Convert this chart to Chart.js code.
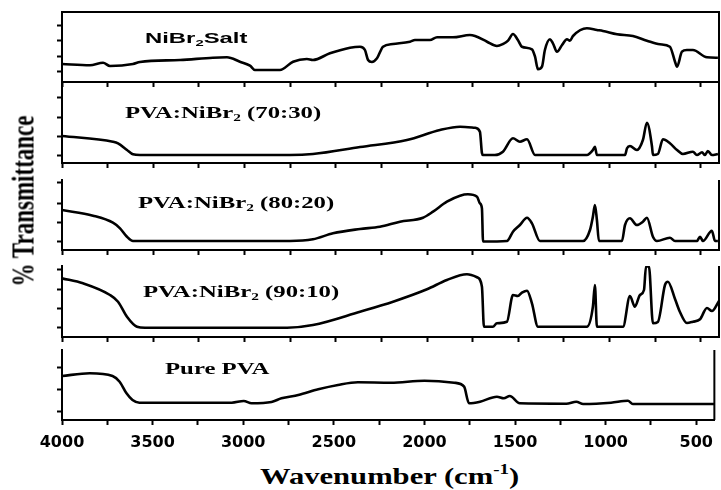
<!DOCTYPE html>
<html>
<head>
<meta charset="utf-8">
<script src="https://cdn.jsdelivr.net/npm/chart.js@4.4.0/dist/chart.umd.min.js"></script>
<style>
  html, body { margin: 0; padding: 0; background: #fff; }
  #wrap { position: relative; width: 721px; height: 490px; overflow: hidden; }
  #wrap canvas { position: absolute; left: 0; }
  .lbl { position: absolute; white-space: nowrap; color: #000; font-weight: bold; line-height: 1; transform-origin: 0 50%; }
  .serif { font-family: "Liberation Serif", "Times New Roman", serif; }
  .sans { font-family: "Liberation Sans", Arial, sans-serif; }
  sub { font-size: 0.62em; vertical-align: -0.3em; line-height: 0; }
  sup { font-size: 0.62em; vertical-align: 0.7em; line-height: 0; }
</style>
</head>
<body>
<div id="wrap">
  <canvas id="p1"></canvas>
  <canvas id="p2"></canvas>
  <canvas id="p3"></canvas>
  <canvas id="p4"></canvas>
  <canvas id="p5"></canvas>

  <div class="lbl sans"  style="left:145px; top:38px;  font-size:15.5px; transform:translateY(-50%) scaleX(1.54);">NiBr<sub>2</sub>Salt</div>
  <div class="lbl serif" style="left:125px; top:113px; font-size:16.5px; transform:translateY(-50%) scaleX(1.5);">PVA:NiBr<sub>2</sub> (70:30)</div>
  <div class="lbl serif" style="left:138px; top:203px; font-size:16.5px; transform:translateY(-50%) scaleX(1.5);">PVA:NiBr<sub>2</sub> (80:20)</div>
  <div class="lbl serif" style="left:143px; top:292px; font-size:16.5px; transform:translateY(-50%) scaleX(1.5);">PVA:NiBr<sub>2</sub> (90:10)</div>
  <div class="lbl serif" style="left:165px; top:369px; font-size:16.5px; transform:translateY(-50%) scaleX(1.5);">Pure PVA</div>

  <div class="lbl serif" style="left:23px; top:201px; font-size:23px; transform-origin:50% 50%; transform:translate(-50%,-50%) rotate(-90deg) scaleY(1.4);">% Transmittance</div>
  <div class="lbl serif" style="left:260px; top:477px; font-size:22.5px; transform:translateY(-50%) scaleX(1.36);">Wavenumber (cm<sup>-1</sup>)</div>
</div>

<script>
// wavenumber ticks (cm-1), labels only on multiples of 500
const xTicks = [4000, 3750, 3500, 3250, 3000, 2750, 2500, 2250, 2000, 1750, 1500, 1250, 1000, 750, 500];

// NiBr2 salt
const saltWn = [4000, 3847, 3775, 3737, 3611, 3573, 3353, 3173, 3096, 3025, 2970, 2943, 2806, 2734, 2658, 2625, 2532, 2422, 2367, 2340, 2323, 2302, 2274, 2241, 2186, 2093, 2066, 1984, 1945, 1858, 1765, 1737, 1671, 1617, 1584, 1556, 1529, 1502, 1480, 1425, 1408, 1392, 1370, 1354, 1326, 1310, 1288, 1260, 1233, 1217, 1200, 1124, 1069, 1036, 959, 872, 795, 724, 669, 641, 630, 603, 576, 543, 466, 406];
const saltT  = [18, 16.7, 19.3, 16, 18, 20, 22, 24.3, 24.7, 20.3, 16.3, 12, 12, 20.3, 23, 22, 28.7, 34.3, 35.3, 32, 22, 20, 23.7, 35.3, 38, 40.3, 42, 42, 44.7, 44.7, 47, 46, 40.3, 36, 38, 41.3, 48, 42, 35.3, 32.7, 25.3, 12.7, 15.3, 32, 42.7, 38.7, 30.3, 37, 42.7, 41.3, 46, 53.7, 52, 51, 47.7, 46, 41.3, 37.7, 35.3, 20.3, 15.3, 30.3, 32, 32, 24.7, 24.3];

// PVA:NiBr2 (70:30)
const pva70Wn = [4000, 3721, 3693, 3644, 3611, 3573, 2751, 2625, 2367, 2110, 1929, 1819, 1737, 1710, 1699, 1693, 1628, 1584, 1529, 1491, 1452, 1408, 1124, 1091, 1080, 1069, 915, 904, 888, 850, 817, 795, 767, 762, 735, 707, 669, 630, 598, 543, 521, 493, 477, 461, 439, 406];
const pva70T  = [27, 21.3, 19.7, 13, 8.7, 8, 8, 9, 16, 23, 33, 36.3, 35.3, 31.3, 10, 8, 8, 11.3, 24.7, 21.3, 23.7, 8, 8, 13, 16.3, 8, 8, 14.7, 17, 13, 23, 40.3, 16.3, 8, 9, 23.7, 19.7, 13, 9, 11.3, 8, 10.7, 8, 12, 8, 9];

// PVA:NiBr2 (80:20)
const pva80Wn = [4000, 3830, 3721, 3682, 3644, 3611, 2751, 2625, 2515, 2367, 2258, 2148, 2022, 1967, 1891, 1819, 1776, 1726, 1710, 1699, 1693, 1562, 1529, 1491, 1452, 1425, 1381, 1145, 1107, 1091, 1080, 1069, 1058, 932, 915, 888, 850, 817, 795, 762, 740, 669, 641, 521, 504, 488, 439, 422, 406];
const pva80T  = [40, 34.3, 27.3, 21.7, 13.3, 9, 9, 10.7, 16.7, 21, 23.3, 28.3, 32.3, 38.3, 48.3, 54.3, 55.7, 53.3, 46.7, 41.7, 8.5, 9, 18.3, 25, 32.3, 26.7, 9, 9, 20, 33.3, 45, 30, 9, 9, 25, 31.7, 25, 28.3, 32.3, 13.3, 9, 12.3, 9, 9, 13.3, 9, 19.3, 9, 9];

// PVA:NiBr2 (90:10)
const pva90Wn = [4000, 3885, 3737, 3693, 3644, 3589, 3545, 2767, 2625, 2367, 2186, 2000, 1891, 1781, 1726, 1699, 1688, 1639, 1617, 1562, 1529, 1502, 1480, 1452, 1425, 1392, 1124, 1091, 1080, 1069, 926, 888, 861, 833, 811, 800, 784, 762, 735, 696, 680, 641, 614, 576, 543, 504, 466, 439, 400];
const pva90T  = [58.7, 53.7, 42, 35.3, 20.3, 10.3, 9.3, 9.3, 12, 25.3, 35.3, 47.7, 57, 62.7, 59.7, 50.3, 10.3, 10.3, 13.7, 15.3, 42, 41, 44.3, 46.3, 33.7, 10.3, 10.3, 30.3, 52, 10.3, 10.3, 41, 30.3, 42, 47, 70.5, 70.5, 13.7, 15, 52, 55.3, 38, 25, 14, 15.3, 17.7, 29, 26, 36];

// Pure PVA
const pureWn = [4000, 3847, 3721, 3682, 3644, 3611, 3573, 3063, 2997, 2954, 2844, 2789, 2696, 2586, 2477, 2367, 2186, 2000, 1836, 1781, 1754, 1693, 1600, 1562, 1529, 1474, 1217, 1162, 1124, 970, 877, 850, 400];
const pureT  = [44, 46.7, 44, 38.3, 26.7, 20, 17.3, 17.3, 19, 16.7, 18, 21.7, 25, 30.7, 35, 37.7, 37.3, 39.3, 37.3, 33.3, 16.7, 18.3, 23.3, 21.7, 24, 16.7, 16.3, 18.3, 16, 17.3, 19.3, 16, 16];

// y tick positions per panel (offset transmittance, a.u.)
const saltTicks = [11, 26, 41, 57];
const pva70Ticks = [8, 27, 46, 66];
const pva80Ticks = [9, 28, 47, 67];
const pva90Ticks = [9, 29, 48, 68];
const pureTicks = [9, 31, 53];

// layout of the stacked panels (pixels)
const PAD_T = 2;
const panels = [
  { id: 'p1', top: 12,  bottom: 82,  yMax: 70, wn: saltWn, t: saltT, yTicks: saltTicks, frameTop: true },
  { id: 'p2', top: 83,  bottom: 163, yMax: 80, wn: pva70Wn, t: pva70T, yTicks: pva70Ticks },
  { id: 'p3', top: 180, bottom: 250, yMax: 70, wn: pva80Wn, t: pva80T, yTicks: pva80Ticks },
  { id: 'p4', top: 266, bottom: 337, yMax: 71, wn: pva90Wn, t: pva90T, yTicks: pva90Ticks },
  { id: 'p5', top: 350, bottom: 420, yMax: 70, wn: pureWn, t: pureT, yTicks: pureTicks, labels: true }
];

// right border (and top border for the first panel)
const framePlugin = {
  id: 'frame',
  afterDraw(chart, args, opts) {
    const { ctx, chartArea: a } = chart;
    ctx.save();
    ctx.strokeStyle = '#000';
    ctx.lineWidth = 2;
    ctx.beginPath();
    ctx.moveTo(a.right, a.top);
    ctx.lineTo(a.right, a.bottom);
    if (opts.top) {
      ctx.moveTo(a.left - 1, a.top);
      ctx.lineTo(a.right + 1, a.top);
    }
    ctx.stroke();
    ctx.restore();
  }
};

panels.forEach(p => {
  const axisH = p.labels ? 40 : 8;
  const cv = document.getElementById(p.id);
  const h = (p.bottom - p.top) + PAD_T + axisH;
  cv.width = 721;
  cv.height = h;
  cv.style.top = (p.top - PAD_T) + 'px';
  cv.style.width = '721px';
  cv.style.height = h + 'px';

  new Chart(cv, {
    type: 'line',
    data: {
      datasets: [{
        data: p.wn.map((x, i) => ({ x: x, y: p.t[i] })),
        borderColor: '#000',
        borderWidth: 2.6,
        pointRadius: 0,
        cubicInterpolationMode: 'monotone',
        borderJoinStyle: 'round',
        fill: false
      }]
    },
    options: {
      responsive: false,
      animation: false,
      devicePixelRatio: 1,
      layout: { padding: { top: PAD_T, right: 2, left: 0, bottom: 0 } },
      plugins: {
        legend: { display: false },
        tooltip: { enabled: false },
        frame: { top: !!p.frameTop }
      },
      scales: {
        x: {
          type: 'linear',
          reverse: true,
          min: 400,
          max: 4000,
          afterBuildTicks: s => { s.ticks = xTicks.map(v => ({ value: v })); },
          afterFit: s => { s.height = axisH; },
          ticks: {
            display: !!p.labels,
            autoSkip: false,
            maxRotation: 0,
            padding: 8,
            color: '#000',
            font: { family: '"DejaVu Sans", sans-serif', size: 16, weight: 'bold' },
            callback: v => (v % 500 === 0 ? String(v) : '')
          },
          grid: { drawOnChartArea: false, drawTicks: true, tickLength: 5, tickWidth: 2, tickColor: '#000' },
          border: { display: true, color: '#000', width: 2 }
        },
        y: {
          min: 0,
          max: p.yMax,
          afterBuildTicks: s => { s.ticks = p.yTicks.map(v => ({ value: v })); },
          afterFit: s => { s.width = 62; },
          ticks: { display: false },
          grid: { drawOnChartArea: false, drawTicks: true, tickLength: 5, tickWidth: 2, tickColor: '#000' },
          border: { display: true, color: '#000', width: 2 }
        }
      }
    },
    plugins: [framePlugin]
  });
});
</script>
</body>
</html>
